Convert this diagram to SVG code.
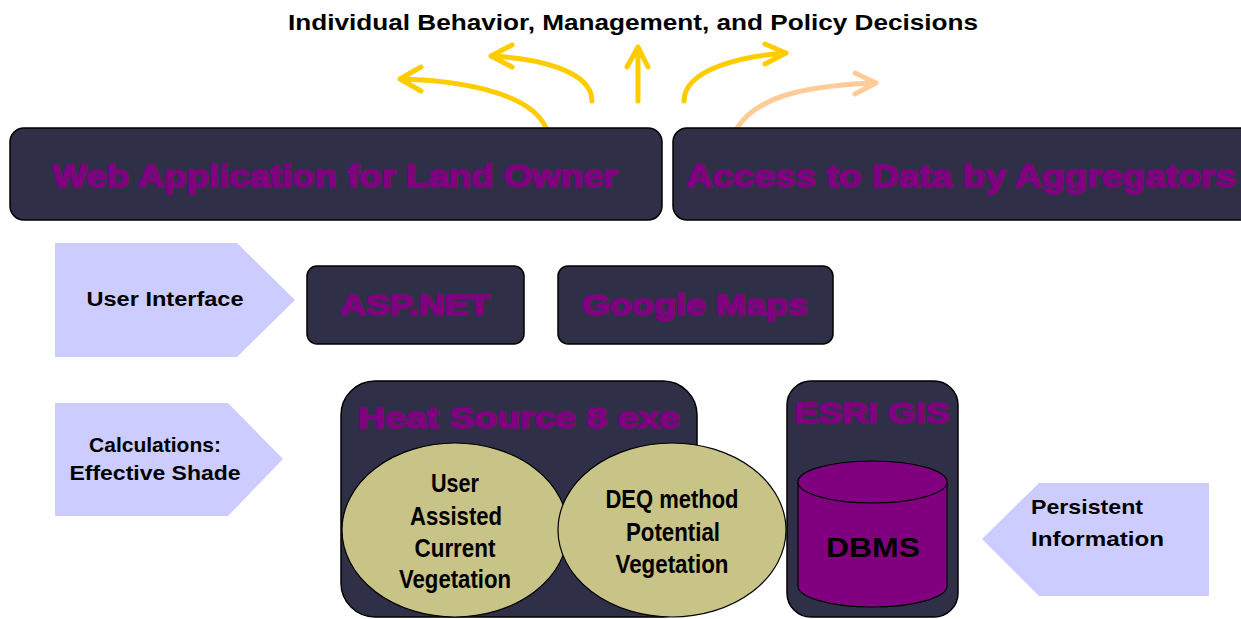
<svg xmlns="http://www.w3.org/2000/svg" width="1241" height="619" viewBox="0 0 1241 619">
  <style>
    .box { fill: #2F2F47; stroke: #000; stroke-width: 1.5; }
    .tag { fill: #CCCCFF; }
    .big { font-family: "Liberation Sans", Arial, sans-serif; font-weight: bold; fill: #800080; stroke: #800080; stroke-width: 1.6; }
    .lbl { font-family: "Liberation Sans", Arial, sans-serif; font-weight: bold; fill: #000; }
    .nar { font-family: "Liberation Sans", Arial, sans-serif; font-weight: bold; fill: #000; font-size: 25px; text-anchor: middle; }
    .ell { fill: #C8C487; stroke: #000; stroke-width: 1.2; }
    .arr { fill: none; stroke: #FFCC00; stroke-width: 5; stroke-linecap: round; stroke-linejoin: round; }
    .arr2 { fill: none; stroke: #FFCC99; stroke-width: 5; stroke-linecap: round; stroke-linejoin: round; }
  </style>

  <text class="lbl" x="633" y="30" font-size="22" text-anchor="middle" textLength="690" lengthAdjust="spacingAndGlyphs">Individual Behavior, Management, and Policy Decisions</text>

  <!-- outgoing decision arrows -->
  <g id="connectors">
    <path class="arr" d="M546,128 C530,90 450,80 400,79 M421,67 L400,79 L421,91"/>
    <path class="arr" d="M592,101 C592,70 535,58 491,56 M512,45 L491,56 L512,67"/>
    <path class="arr" d="M638,101 L638,47 M627,67 L638,47 L648,67"/>
    <path class="arr" d="M684,101 C684,70 740,56 786,53 M765,44 L786,53 L765,64"/>
    <path class="arr2" d="M737,128 C760,92 820,85 876,83 M855,73 L876,83 L855,94"/>
  </g>

  <g id="web-app">
    <rect class="box" x="10" y="128" width="652" height="92" rx="14"/>
    <text class="big" x="335" y="187" font-size="32" text-anchor="middle" textLength="565" lengthAdjust="spacingAndGlyphs">Web Application for Land Owner</text>
  </g>
  <g id="aggregators">
    <rect class="box" x="673" y="128" width="580" height="92" rx="14"/>
    <text class="big" x="961" y="187" font-size="32" text-anchor="middle" textLength="550" lengthAdjust="spacingAndGlyphs">Access to Data by Aggregators</text>
  </g>

  <g id="user-interface">
    <polygon class="tag" points="55,243 237,243 295,300 237,357 55,357"/>
    <text class="lbl" x="165" y="306" font-size="20" text-anchor="middle" textLength="157" lengthAdjust="spacingAndGlyphs">User Interface</text>
  </g>
  <g id="aspnet">
    <rect class="box" x="307" y="266" width="217" height="78" rx="10"/>
    <text class="big" x="415" y="315" font-size="29" text-anchor="middle" textLength="150" lengthAdjust="spacingAndGlyphs">ASP.NET</text>
  </g>
  <g id="google-maps">
    <rect class="box" x="558" y="266" width="275" height="78" rx="10"/>
    <text class="big" x="695" y="315" font-size="29" text-anchor="middle" textLength="226" lengthAdjust="spacingAndGlyphs">Google Maps</text>
  </g>

  <g id="calculations">
    <polygon class="tag" points="55,403 228,403 283,459 228,516 55,516"/>
    <text class="lbl" x="155" y="452" font-size="21" text-anchor="middle">Calculations:</text>
    <text class="lbl" x="155" y="480" font-size="21" text-anchor="middle" textLength="171" lengthAdjust="spacingAndGlyphs">Effective Shade</text>
  </g>

  <g id="heat-source">
    <rect class="box" x="341" y="381" width="356" height="236" rx="34"/>
    <text class="big" x="358" y="428" font-size="30" textLength="322" lengthAdjust="spacingAndGlyphs">Heat Source 8 exe</text>
  </g>
  <g id="current-vegetation">
    <ellipse class="ell" cx="455" cy="530" rx="113" ry="87"/>
    <text class="nar" x="455" y="492" textLength="48" lengthAdjust="spacingAndGlyphs">User</text>
    <text class="nar" x="456" y="525" textLength="92" lengthAdjust="spacingAndGlyphs">Assisted</text>
    <text class="nar" x="455" y="557" textLength="81" lengthAdjust="spacingAndGlyphs">Current</text>
    <text class="nar" x="455" y="588" textLength="112" lengthAdjust="spacingAndGlyphs">Vegetation</text>
  </g>
  <g id="potential-vegetation">
    <ellipse class="ell" cx="672" cy="530" rx="114" ry="87"/>
    <text class="nar" x="672" y="508" textLength="133" lengthAdjust="spacingAndGlyphs">DEQ method</text>
    <text class="nar" x="673" y="541" textLength="94" lengthAdjust="spacingAndGlyphs">Potential</text>
    <text class="nar" x="672" y="573" textLength="113" lengthAdjust="spacingAndGlyphs">Vegetation</text>
  </g>

  <g id="esri-gis">
    <rect class="box" x="787" y="381" width="171" height="236" rx="24"/>
    <text class="big" x="872" y="423" font-size="30" text-anchor="middle" textLength="155" lengthAdjust="spacingAndGlyphs">ESRI GIS</text>
  </g>
  <g id="dbms">
    <path d="M798,482 L798,586 A74.5,21 0 0 0 947,586 L947,482" fill="#800080" stroke="#000" stroke-width="1.2"/>
    <ellipse cx="872.5" cy="482" rx="74.5" ry="21" fill="#800080" stroke="#000" stroke-width="1.2"/>
    <text class="lbl" x="873" y="557" font-size="27" text-anchor="middle" textLength="94" lengthAdjust="spacingAndGlyphs">DBMS</text>
  </g>

  <g id="persistent-info">
    <polygon class="tag" points="982,539 1039,483 1209,483 1209,596 1039,596"/>
    <text class="lbl" x="1031" y="514" font-size="21" textLength="112" lengthAdjust="spacingAndGlyphs">Persistent</text>
    <text class="lbl" x="1031" y="546" font-size="21" textLength="133" lengthAdjust="spacingAndGlyphs">Information</text>
  </g>
</svg>
